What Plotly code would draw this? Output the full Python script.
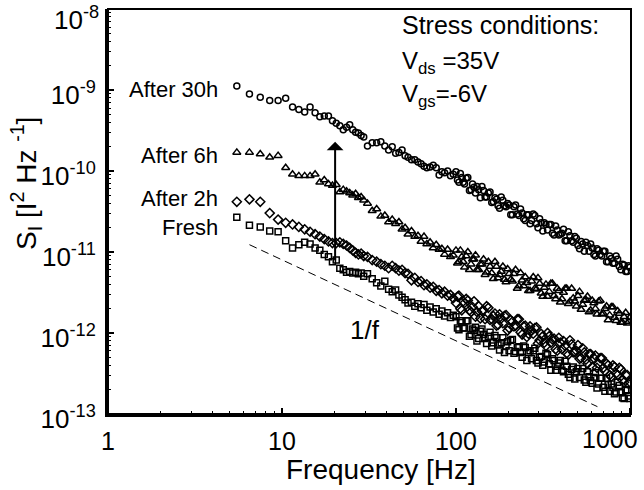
import math
import plotly.graph_objects as go

# ---------------- data ----------------
FREQ_HZ = [
    5.5, 6.5, 7.5, 8.5, 9.5, 10.5, 11.5, 12.5, 13.5, 14.5, 15.5, 16.5, 17.5,
    18.5, 19.5, 20.5, 21.5, 22.5, 23.5, 24.5, 25.5, 26.5, 27.5, 28.5, 29.5,
    31, 33, 35, 37, 39, 41, 43, 45, 47, 49, 51, 53, 55.5, 58, 60.5, 63, 65.5,
    68, 71, 74, 77, 80, 83, 86, 89.5, 93, 96.5,
    100, 104, 108, 112, 117, 122, 127, 132, 138, 144, 150, 157, 164, 171, 178,
    186, 194, 202, 211, 220, 230, 240, 250, 261, 272, 284, 296, 309, 322, 336,
    351, 366, 382, 398, 415, 433, 452, 472, 492, 513, 535, 558, 582, 607, 633,
    660, 689, 718, 749, 781, 815, 850, 887, 925, 965, 1000,
]

# log10 of S_I (A^2/Hz) for each series
LOG10_S_30H = [
    -8.95, -9.05, -9.09, -9.13, -9.13, -9.10, -9.21, -9.24, -9.27, -9.21, -9.28, -9.33, -9.32,
    -9.32, -9.38, -9.41, -9.44, -9.49, -9.46, -9.43, -9.49, -9.52, -9.53, -9.56, -9.58,
    -9.69, -9.65, -9.65, -9.64, -9.69, -9.74, -9.70, -9.78, -9.77, -9.74, -9.81, -9.83, -9.86,
    -9.86, -9.89, -9.91, -9.94, -9.96, -9.95, -9.93, -9.96, -10.05, -10.01, -10.02, -10.00,
    -10.06, -10.04,
    -10.01, -10.14, -10.08, -10.16, -10.08, -10.23, -10.20, -10.19, -10.33, -10.24, -10.32,
    -10.26, -10.38, -10.35, -10.46, -10.36, -10.44, -10.42, -10.54, -10.42, -10.55, -10.52,
    -10.61, -10.54, -10.61, -10.55, -10.70, -10.64, -10.64, -10.73, -10.66, -10.79, -10.73,
    -10.78, -10.72, -10.86, -10.80, -10.88, -10.83, -10.96, -10.90, -10.88, -10.99, -10.95,
    -11.05, -10.98, -11.05, -10.99, -11.12, -11.08, -11.14, -11.09, -11.22, -11.16, -11.24,
    -11.19,
]
LOG10_S_6H = [
    -9.77, -9.77, -9.79, -9.83, -9.81, -9.96, -10.04, -10.06, -10.06, -10.06, -10.04, -10.14,
    -10.11, -10.16, -10.18, -10.17, -10.26, -10.23, -10.25, -10.27, -10.30, -10.28, -10.33,
    -10.32, -10.36,
    -10.40, -10.49, -10.47, -10.56, -10.55, -10.63, -10.60, -10.65, -10.63, -10.72, -10.70,
    -10.78, -10.74, -10.81, -10.80, -10.87, -10.81, -10.90, -10.88, -10.95, -10.91, -10.97,
    -10.96, -11.03, -10.97, -11.06, -11.04,
    -10.98, -11.12, -11.06, -11.19, -11.00, -11.15, -11.09, -11.22, -11.15, -11.09, -11.25,
    -11.18, -11.33, -11.18, -11.28, -11.18, -11.37, -11.27, -11.36, -11.22, -11.42, -11.35,
    -11.31, -11.48, -11.36, -11.45, -11.32, -11.51, -11.44, -11.55, -11.39, -11.54, -11.45,
    -11.62, -11.50, -11.45, -11.61, -11.57, -11.67, -11.49, -11.65, -11.59, -11.74, -11.60,
    -11.70, -11.61, -11.77, -11.70, -11.84, -11.68, -11.81, -11.73, -11.87, -11.80, -11.88,
    -11.81,
]
LOG10_S_2H = [
    -10.38, -10.35, -10.38, -10.52, -10.60, -10.64, -10.66, -10.69, -10.72, -10.75, -10.78,
    -10.81, -10.84, -10.87, -10.89, -10.89, -10.88, -10.90, -10.92, -10.95, -10.98, -11.01,
    -11.03, -11.02, -11.05,
    -11.06, -11.10, -11.12, -11.15, -11.17, -11.20, -11.17, -11.20, -11.23, -11.22, -11.26,
    -11.27, -11.35, -11.32, -11.37, -11.36, -11.41, -11.40, -11.44, -11.43, -11.48, -11.47,
    -11.51, -11.49, -11.54, -11.53, -11.57,
    -11.63, -11.54, -11.72, -11.63, -11.60, -11.74, -11.61, -11.74, -11.82, -11.72, -11.67,
    -11.84, -11.79, -11.91, -11.77, -11.88, -11.78, -11.94, -11.86, -11.91, -11.83, -12.02,
    -11.91, -12.01, -11.97, -11.94, -12.13, -12.01, -12.12, -12.00, -12.12, -12.07, -12.22,
    -12.12, -12.10, -12.25, -12.09, -12.24, -12.22, -12.32, -12.19, -12.33, -12.26, -12.42,
    -12.28, -12.38, -12.31, -12.47, -12.40, -12.54, -12.42, -12.52, -12.45, -12.61, -12.52,
    -12.61,
]
LOG10_S_FRESH = [
    -10.57, -10.67, -10.69, -10.74, -10.75, -10.86, -10.95, -10.91, -10.88, -10.90, -10.95,
    -10.98, -11.03, -11.06, -11.12, -11.10, -11.20, -11.22, -11.25, -11.24, -11.26, -11.25,
    -11.27, -11.26, -11.30,
    -11.27, -11.33, -11.38, -11.42, -11.36, -11.46, -11.49, -11.47, -11.53, -11.56, -11.59,
    -11.63, -11.62, -11.67, -11.64, -11.69, -11.65, -11.72, -11.68, -11.74, -11.70, -11.77,
    -11.73, -11.79, -11.75, -11.81, -11.78,
    -11.80, -11.96, -11.87, -11.94, -11.85, -12.02, -11.97, -12.10, -11.98, -12.02, -12.13,
    -11.99, -12.12, -12.06, -12.21, -12.06, -12.16, -12.22, -12.08, -12.23, -12.17, -12.30,
    -12.18, -12.24, -12.32, -12.19, -12.37, -12.29, -12.36, -12.27, -12.46, -12.34, -12.41,
    -12.34, -12.48, -12.41, -12.55, -12.42, -12.48, -12.55, -12.44, -12.61, -12.54, -12.62,
    -12.49, -12.63, -12.56, -12.72, -12.64, -12.63, -12.75, -12.61, -12.74, -12.81, -12.70,
    -12.81,
]

# extra high-frequency samples (the dense part of the spectra, 100 Hz - 1 kHz)
FREQ_HZ_HF2 = [
    102, 106, 110, 114.5, 119.5, 124.5, 129.5, 135, 141, 147, 153.5, 160.5, 167.5,
    174.5, 182, 190, 198, 206.5, 215.5, 225, 235, 245, 255.5, 266.5, 278, 290,
    302.5, 315.5, 329, 343.5, 358.5, 374, 390, 406.5, 424, 442.5, 462, 482,
    502.5, 524, 546.5, 570, 594.5, 620, 646.5, 674.5, 703.5, 733.5, 765, 798,
    832.5, 868.5, 906, 945, 982.5,
]
LOG10_S_30H_HF2 = [
    -10.11, -10.03, -10.14, -10.09, -10.24, -10.16, -10.27, -10.23, -10.19, -10.32, -10.27,
    -10.39, -10.33, -10.43, -10.32, -10.43, -10.40, -10.54, -10.44, -10.53, -10.47, -10.59,
    -10.54, -10.65, -10.53, -10.65, -10.59, -10.74, -10.66, -10.66, -10.77, -10.68, -10.79,
    -10.77, -10.86, -10.75, -10.86, -10.81, -10.92, -10.87, -10.99, -10.92, -10.90, -11.03,
    -10.96, -11.03, -10.99, -11.12, -11.05, -11.14, -11.05, -11.18, -11.15, -11.24, -11.17,
]
LOG10_S_6H_HF2 = [
    -11.14, -10.98, -11.12, -11.05, -11.22, -11.09, -11.04, -11.22, -11.15, -11.28, -11.12,
    -11.26, -11.12, -11.32, -11.24, -11.34, -11.21, -11.34, -11.27, -11.45, -11.26, -11.42,
    -11.38, -11.48, -11.31, -11.46, -11.39, -11.55, -11.40, -11.49, -11.39, -11.58, -11.48,
    -11.58, -11.45, -11.64, -11.45, -11.61, -11.54, -11.71, -11.60, -11.55, -11.72, -11.63,
    -11.77, -11.60, -11.76, -11.67, -11.78, -11.68, -11.85, -11.76, -11.87, -11.75, -11.86,
]
LOG10_S_2H_HF2 = [
    -11.55, -11.70, -11.61, -11.58, -11.72, -11.68, -11.80, -11.67, -11.73, -11.83, -11.69,
    -11.83, -11.76, -11.90, -11.82, -11.79, -11.97, -11.84, -11.92, -11.83, -11.99, -11.92,
    -12.05, -11.92, -12.01, -11.93, -12.09, -12.04, -12.16, -12.04, -12.08, -12.20, -12.06,
    -12.20, -12.16, -12.27, -12.14, -12.24, -12.15, -12.31, -12.24, -12.38, -12.26, -12.31,
    -12.43, -12.31, -12.43, -12.38, -12.52, -12.40, -12.50, -12.43, -12.58, -12.52, -12.63,
]
LOG10_S_FRESH_HF2 = [
    -11.94, -11.85, -11.94, -11.85, -12.04, -11.95, -11.93, -12.07, -11.95, -12.07, -12.04,
    -12.16, -12.03, -12.15, -12.12, -12.24, -12.11, -12.09, -12.25, -12.18, -12.24, -12.16,
    -12.34, -12.22, -12.22, -12.34, -12.30, -12.40, -12.25, -12.38, -12.32, -12.46, -12.37,
    -12.46, -12.35, -12.51, -12.45, -12.57, -12.44, -12.48, -12.58, -12.48, -12.59, -12.55,
    -12.68, -12.56, -12.67, -12.56, -12.72, -12.67, -12.73, -12.65, -12.80, -12.71, -12.78,
]

SERIES_NAMES = ["After 30h", "After 6h", "After 2h", "Fresh"]

# 1/f reference line and the arrow
REF_F = [6.5, 650]
REF_S = [1.23e-11, 1.23e-13]
ARROW_F = 20.2
ARROW_S = [7.6e-12, 2.3e-10]

X_TICKS = [1, 10, 100, 1000]
X_TICK_TEXT = ["1", "10", "100", " "]
Y_TICKS = [1e-13, 1e-12, 1e-11, 1e-10, 1e-9, 1e-8]
Y_TICK_TEXT = ["10<sup>-13</sup>", "10<sup>-12</sup>", "10<sup>-11</sup>",
               "10<sup>-10</sup>", "10<sup>-9</sup>", " "]
Y_TOP_LABEL = "10<sup>-8</sup>"

# ---------------- figure ----------------
FONT = "Liberation Sans, Arial, Helvetica, sans-serif"
W, H = 644, 490
ML, MR, MT, MB = 108, 13, 9, 76
PW, PH = W - ML - MR, H - MT - MB


def px(xp):
    return (xp - ML) / PW


def py(yp):
    return (H - MB - yp) / PH


fig = go.Figure()

series = [
    (SERIES_NAMES[0], LOG10_S_30H, LOG10_S_30H_HF2, "circle-open", 6),
    (SERIES_NAMES[1], LOG10_S_6H, LOG10_S_6H_HF2, "triangle-up-open", 7),
    (SERIES_NAMES[2], LOG10_S_2H, LOG10_S_2H_HF2, "diamond-open", 7),
    (SERIES_NAMES[3], LOG10_S_FRESH, LOG10_S_FRESH_HF2, "square-open", 6),
]
for name, vals, vals2, sym, size in series:
    fig.add_trace(go.Scatter(
        x=FREQ_HZ + FREQ_HZ_HF2, y=[10 ** v for v in vals + vals2],
        mode="markers", name=name,
        marker=dict(symbol=sym, size=size, color="black",
                    line=dict(width=1.5, color="black")),
        showlegend=False, cliponaxis=True,
    ))

fig.add_trace(go.Scatter(
    x=REF_F, y=REF_S, mode="lines", showlegend=False,
    line=dict(color="black", width=1, dash="8px,5px"),
))

x_minor = [m * 10 ** d for d in range(0, 3) for m in range(2, 10)]
y_minor = [m * 10.0 ** d for d in range(-13, -8) for m in range(2, 10)]

fig.update_layout(
    width=W, height=H,
    margin=dict(l=ML, r=MR, t=MT, b=MB, autoexpand=False),
    paper_bgcolor="white", plot_bgcolor="white",
    font=dict(family=FONT, color="black"),
    showlegend=False,
)
fig.update_xaxes(
    type="log", range=[0, math.log10(1000) + 0.006], automargin=False,
    tickmode="array", tickvals=X_TICKS, ticktext=X_TICK_TEXT,
    ticks="inside", ticklen=6, tickwidth=1.5, tickcolor="black",
    showline=True, linewidth=3, linecolor="black", mirror=False,
    showgrid=False, zeroline=False,
    tickfont=dict(size=25, family=FONT, color="black"),
    ticklabelstandoff=3, ticklabeloverflow="allow",
    minor=dict(tickmode="array", tickvals=x_minor, ticks="inside", ticklen=3,
               tickwidth=1, tickcolor="black", showgrid=False),
)
fig.update_yaxes(
    type="log", range=[-13.001, -7.999], automargin=False,
    tickmode="array", tickvals=Y_TICKS, ticktext=Y_TICK_TEXT,
    ticks="inside", ticklen=6, tickwidth=1.5, tickcolor="black",
    showline=True, linewidth=3, linecolor="black", mirror=False,
    showgrid=False, zeroline=False,
    tickfont=dict(size=26, family=FONT, color="black"),
    ticklabelstandoff=4, ticklabelshift=5, ticklabeloverflow="allow",
    minor=dict(tickmode="array", tickvals=y_minor, ticks="inside", ticklen=3,
               tickwidth=1, tickcolor="black", showgrid=False),
)

fig.add_shape(type="rect", xref="paper", yref="paper", x0=0, x1=1, y0=0, y1=1,
              line=dict(color="black", width=2), layer="above")

ann = []
# arrow
ann.append(dict(
    x=math.log10(ARROW_F), y=math.log10(ARROW_S[1]),
    ax=math.log10(ARROW_F), ay=math.log10(ARROW_S[0]),
    xref="x", yref="y", axref="x", ayref="y", text="",
    showarrow=True, arrowhead=1, arrowsize=1.4, arrowwidth=2, arrowcolor="black",
))


def label(text, xp, yp, size, anchor="left", angle=0):
    ann.append(dict(text=text, x=px(xp), y=py(yp), xref="paper", yref="paper",
                    xanchor=anchor, yanchor="middle", showarrow=False,
                    textangle=angle, font=dict(size=size, family=FONT, color="black")))


label("Stress conditions:", 400, 25, 25)
label("V<sub>ds</sub> =35V", 400, 63, 24)
label("V<sub>gs</sub>=-6V", 400, 96, 24)
label(SERIES_NAMES[0], 220, 90, 22, "right")
label(SERIES_NAMES[1], 220, 155, 22, "right")
label(SERIES_NAMES[2], 220, 198, 22, "right")
label(SERIES_NAMES[3], 220, 227, 22, "right")
label("1/f", 365, 330, 26, "center")
label("1000", 640, 439, 25, "right")
label(Y_TOP_LABEL, 101, 18, 26, "right")
label("Frequency [Hz]", 381, 470, 28, "center")
label("S<sub>I</sub> [I<sup>2</sup> Hz <sup>-1</sup>]", 26, 184, 28, "center", -90)

fig.update_layout(annotations=ann)

fig.write_html("out.html", config={"displayModeBar": False},
               post_script="document.body.style.margin='0px';")
